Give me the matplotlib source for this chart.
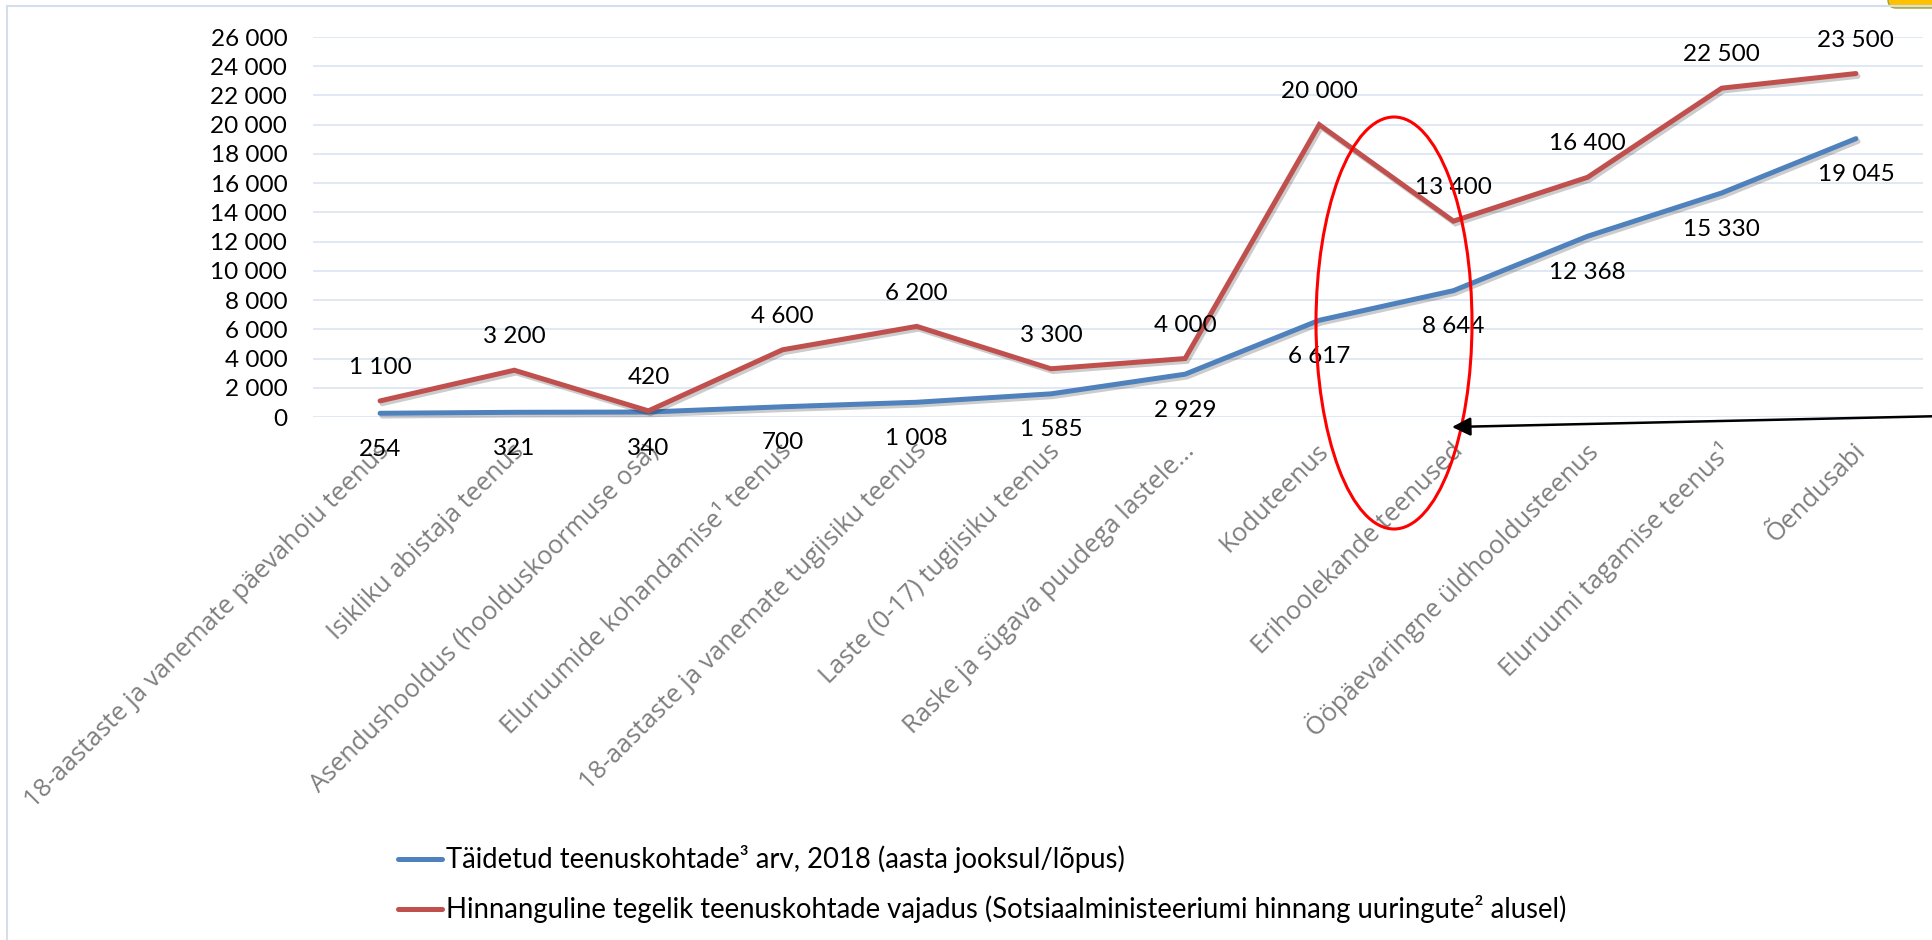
import matplotlib
matplotlib.use("Agg")
import matplotlib.pyplot as plt
import matplotlib.patheffects as pe
import matplotlib.transforms as mtransforms
from matplotlib.patches import Ellipse, FancyArrowPatch, FancyBboxPatch
from matplotlib.lines import Line2D

categories = [
    "18-aastaste ja vanemate päevahoiu teenus",
    "Isikliku abistaja teenus",
    "Asendushooldus (hoolduskoormuse osa)",
    "Eluruumide kohandamise¹ teenus",
    "18-aastaste ja vanemate tugiisiku teenus",
    "Laste (0-17) tugiisiku teenus",
    "Raske ja sügava puudega lastele...",
    "Koduteenus",
    "Erihoolekande teenused",
    "Ööpäevaringne üldhooldusteenus",
    "Eluruumi tagamise teenus¹",
    "Õendusabi",
]
filled = [254, 321, 340, 700, 1008, 1585, 2929, 6617, 8644, 12368, 15330, 19045]
needed = [1100, 3200, 420, 4600, 6200, 3300, 4000, 20000, 13400, 16400, 22500, 23500]
series_names = [
    "Täidetud teenuskohtade³ arv, 2018 (aasta jooksul/lõpus)",
    "Hinnanguline tegelik teenuskohtade vajadus (Sotsiaalministeeriumi hinnang uuringute² alusel)",
]
yticks = list(range(0, 26001, 2000))

W, H = 1932, 940
BLUE = "#4F81BD"
RED = "#C0504D"
FONT = ["Lato", "DejaVu Sans"]
CATFONT = ["Open Sans", "DejaVu Sans"]
FS = 17.5


def fmt(v):
    return f"{v:,}".replace(",", " ")


def fx(x):
    return x / W


def fy(y):
    return 1 - y / H


plt.rcParams["font.family"] = FONT
fig = plt.figure(figsize=(W / 100, H / 100), dpi=100)
fig.patch.set_facecolor("white")

ax = fig.add_axes([fx(313), fy(417), 1610 / W, 380 / H])
ax.set_xlim(-0.5, len(categories) - 0.5)
ax.set_ylim(0, 26000)
for s in ax.spines.values():
    s.set_visible(False)
ax.set_yticks(yticks)
ax.set_yticklabels([fmt(v) for v in yticks], fontsize=FS)
ax.tick_params(axis="y", length=0, pad=18.5)
ax.yaxis.grid(True, color="#DCE6F2", lw=1.3)
ax.set_axisbelow(True)

xs = list(range(len(categories)))
ax.set_xticks(xs)
ax.set_xticklabels(categories, fontsize=18.3, color="#7F7F7F", family=CATFONT)
ax.tick_params(axis="x", length=0, pad=22)
off = mtransforms.ScaledTranslation(6 / 100, 0, fig.dpi_scale_trans)
for lab in ax.get_xticklabels():
    lab.set_rotation(45)
    lab.set_ha("right")
    lab.set_va("center")
    lab.set_rotation_mode("anchor")
    lab.set_transform(lab.get_transform() + off)

shadow = [pe.SimpleLineShadow(offset=(1.5, -2), shadow_color="black", alpha=0.2), pe.Normal()]
ax.plot(xs, filled, color=BLUE, lw=3.6, solid_capstyle="round", solid_joinstyle="miter",
        path_effects=shadow, clip_on=False, zorder=3)
ax.plot(xs, needed, color=RED, lw=3.6, solid_capstyle="round", solid_joinstyle="miter",
        path_effects=shadow, clip_on=False, zorder=3)

for i, v in enumerate(filled):
    ax.annotate(fmt(v), (i, v), xytext=(0, -26), textcoords="offset points",
                ha="center", va="center", fontsize=FS, color="black", zorder=5)
for i, v in enumerate(needed):
    ax.annotate(fmt(v), (i, v), xytext=(0, 24), textcoords="offset points",
                ha="center", va="center", fontsize=FS, color="black", zorder=5)

# legend
LFS = 19.8
for (yy, col, name) in [(859, BLUE, series_names[0]), (909, RED, series_names[1])]:
    fig.add_artist(Line2D([fx(398), fx(442)], [fy(yy), fy(yy)], color=col, lw=3.6,
                          solid_capstyle="round", transform=fig.transFigure))
    fig.text(fx(446), fy(yy), name, ha="left", va="center", fontsize=LFS, color="black")

# frame border
fig.add_artist(Line2D([fx(7), fx(7)], [fy(6), fy(945)], color="#D5DFEC", lw=1.5,
                      transform=fig.transFigure))
fig.add_artist(Line2D([fx(7), fx(1940)], [fy(6), fy(6)], color="#D5DFEC", lw=1.5,
                      transform=fig.transFigure))

# yellow corner
fig.add_artist(FancyBboxPatch((1888, H - 8), 80, 40, boxstyle="round,pad=0,rounding_size=8",
                              facecolor="#FFC000", edgecolor="#9BA53A", lw=1,
                              transform=mtransforms.IdentityTransform()))

# red ellipse highlight
fig.add_artist(Ellipse((fx(1394), fy(323)), 156 / W, 412 / H, fill=False,
                       edgecolor="#FF0000", lw=2.2, transform=fig.transFigure, zorder=10))

# black arrow
fig.add_artist(FancyArrowPatch((fx(1945), fy(416)), (fx(1452), fy(427)),
                               arrowstyle="-|>", mutation_scale=28, color="black", lw=1.8,
                               shrinkA=0, shrinkB=0, transform=fig.transFigure, zorder=10))

fig.savefig("out.png", dpi=100, facecolor="white")
